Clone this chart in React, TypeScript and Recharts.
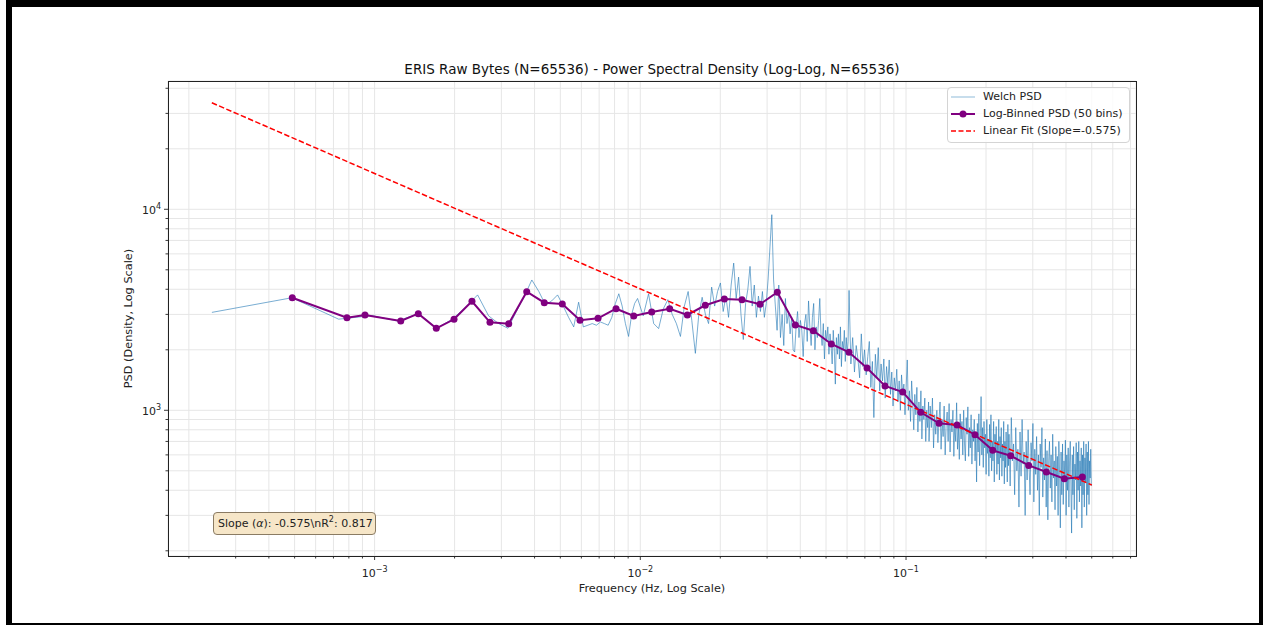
import { CartesianGrid, Label, Legend, Line, LineChart, XAxis, YAxis } from "recharts";

const FONT = "'DejaVu Sans', sans-serif";
const NPERSEG = 4096; // Welch segment length, fs = 1 -> bin k sits at k / 4096 Hz

// Welch PSD values, one block of frequency bins at a time
const welchPsdA = [ // bins 1..40
  3070, 3630, 2840, 2960, 2780, 3030, 2560, 2830, 3250, 3750,
  2950, 2700, 2560, 3100, 3700, 4450, 3900, 3350, 3500, 3750,
  3300, 2900, 2600, 3450, 2600, 2650, 2700, 2650, 2750, 2700,
  2650, 2900, 3400, 3800, 3300, 2700, 2330, 3000, 3400, 3600,
];
const welchPsdB = [ // bins 42..130, every 2nd
  2950, 3800, 2700, 2550, 3200, 3550, 3000, 2700, 2330, 3300,
  3900, 2800, 1920, 3000, 3650, 3000, 2700, 4100, 3300, 3900,
  4300, 3100, 3700, 2900, 4200, 5400, 3600, 4600, 3000, 2250,
  3400, 4000, 5200, 3300, 4200, 2900, 3700, 3100, 3900, 2900,
  3400, 4500, 6500, 9400, 4450,
];
const welchPsdC = [ // bins 132..250, every 2nd
  3300, 2500, 4200, 2300, 3000, 2100, 3600, 2700, 3100, 2400,
  2900, 2000, 1950, 2600, 3100, 2300, 2800, 2500, 1850, 2700,
  3000, 2200, 3500, 2600, 2100, 2900, 3400, 2000, 2600, 2300,
  2800, 3600, 2400, 2100, 2700, 1800, 2500, 2200, 2600, 1900,
  2400, 2100, 1700, 2500, 2000, 1350, 2300, 1900, 2400, 1800,
  2600, 1650, 2200, 2000, 2500, 1750, 2300, 1900, 2200, 3950,
];
const welchPsdD = [ // bins 254..498, every 4th
  1700, 2300, 1550, 2100, 1800, 1450, 2400, 1650, 2000, 1500,
  1850, 2200, 1300, 1750, 920, 1900, 1450, 2050, 1250, 1700,
  1400, 1800, 1150, 1650, 1350, 1780, 1200, 1550, 1050, 1450,
  1250, 1600, 1100, 1400, 1000, 1500, 1200, 1350, 950, 1300,
  1780, 1000, 1250, 880, 1400, 1100, 800, 1200, 950, 1300,
  780, 1100, 880, 1250, 720, 1050, 900, 1150, 700, 1000,
  820, 1100,
];
const welchPsdE = [ // bins 500..995, every 5th
  700, 1050, 820, 1150, 650, 950, 760, 1000, 690, 880,
  1100, 640, 900, 740, 1050, 600, 850, 980, 700, 1080,
  620, 900, 780, 1000, 590, 860, 700, 1090, 640, 820,
  570, 960, 720, 880, 600, 1000, 680, 560, 920, 760,
  1040, 590, 820, 650, 950, 540, 800, 700, 900, 560,
  780, 440, 860, 620, 960, 530, 740, 1170, 600, 820,
  520, 880, 650, 760, 480, 900, 610, 720, 470, 850,
  580, 950, 500, 700, 560, 880, 440, 760, 620, 830,
  480, 700, 540, 900, 450, 740, 580, 820, 470, 680,
  560, 880, 430, 700, 520, 780, 600, 440, 850, 530,
];
const welchPsdF = [ // bins 1000..2040, every 10th
  760, 420, 920, 560, 680, 380, 820, 500, 640, 330,
  780, 470, 900, 540, 620, 300, 700, 450, 800, 520,
  380, 690, 560, 860, 350, 640, 480, 740, 400, 600,
  300, 680, 520, 820, 370, 580, 450, 720, 330, 630,
  285, 560, 700, 410, 600, 350, 760, 460, 560, 320,
  660, 420, 590, 300, 700, 480, 260, 620, 380, 680,
  340, 560, 440, 710, 300, 600, 400, 650, 330, 560,
  700, 420, 245, 600, 380, 660, 320, 540, 450, 690,
  290, 620, 400, 700, 350, 560, 420, 650, 260, 600,
  380, 700, 330, 580, 440, 680, 300, 620, 380, 700,
  340, 560, 460, 640, 420,
];

const binnedFreq = [
  4.9e-4, 7.87e-4, 9.2e-4, 1.254e-3, 1.46e-3, 1.707e-3, 1.99e-3, 2.325e-3, 2.718e-3, 3.197e-3,
  3.737e-3, 4.351e-3, 5.086e-3, 5.93e-3, 6.931e-3, 8.103e-3, 9.445e-3, 1.104e-2, 1.29e-2, 1.503e-2,
  1.756e-2, 2.071e-2, 2.414e-2, 2.821e-2, 3.278e-2, 3.833e-2, 4.478e-2, 5.234e-2, 6.101e-2, 7.132e-2,
  8.337e-2, 9.718e-2, 0.1136, 0.1331, 0.1556, 0.1818, 0.212, 0.2477, 0.2895, 0.3374,
  0.3943, 0.4609,
];
const binnedPsd = [
  3631, 2888, 2980, 2782, 3024, 2559, 2836, 3486, 2740, 2697,
  3890, 3430, 3380, 2804, 2869, 3202, 2945, 3083, 3202, 2980,
  3330, 3581, 3550, 3369, 3864, 2657, 2489, 2137, 1944, 1623,
  1321, 1233, 977, 861, 845, 756, 632, 594, 532, 493,
  457, 466,
];

const fitFreq = [0.000244, 0.5];
const fitPsd = [33880, 425];

const xMajorTicks = [0.001, 0.01, 0.1];
const xMinorTicks = [
  0.0002, 0.0003, 0.0004, 0.0005, 0.0006, 0.0007, 0.0008, 0.0009,
  0.002, 0.003, 0.004, 0.005, 0.006, 0.007, 0.008, 0.009,
  0.02, 0.03, 0.04, 0.05, 0.06, 0.07, 0.08, 0.09,
  0.2, 0.3, 0.4, 0.5, 0.6, 0.7,
];
const yMajorTicks = [1000, 10000];
const yMinorTicks = [
  200, 300, 400, 500, 600, 700, 800, 900,
  2000, 3000, 4000, 5000, 6000, 7000, 8000, 9000,
  20000, 30000, 40000,
];

const legendOrder = ["Welch PSD", "Log-Binned PSD (50 bins)", "Linear Fit (Slope=-0.575)"];

const welchBlocks: [number, number, number[]][] = [
  [1, 1, welchPsdA],
  [42, 2, welchPsdB],
  [132, 2, welchPsdC],
  [254, 4, welchPsdD],
  [500, 5, welchPsdE],
  [1000, 10, welchPsdF],
];
const welchData = welchBlocks.flatMap(([start, step, vals]) =>
  vals.map((psd, i) => ({ f: (start + i * step) / NPERSEG, psd }))
);
const binnedData = binnedFreq.map((f, i) => ({ f, psd: binnedPsd[i] }));
const fitData = fitFreq.map((f, i) => ({ f, psd: fitPsd[i] }));

const W = 1263;
const H = 625;
const PLOT = { left: 168, top: 81, right: 1136, bottom: 556 };
const Y_AXIS_W = 60;
const X_AXIS_H = 30;

const exponent = (v: number) => {
  const e = Math.round(Math.log10(v));
  return e < 0 ? `\u2212${-e}` : `${e}`;
};

function XTick({ x, y, payload }: any) {
  const major = xMajorTicks.includes(payload.value);
  return (
    <g>
      <line x1={x} x2={x} y1={y} y2={y + (major ? 4 : 2.5)} stroke="#222" strokeWidth={0.9} />
      {major && (
        <text x={x} y={y + 21} textAnchor="middle" fontSize={11} fill="#222" fontFamily={FONT}>
          10<tspan dy={-5} fontSize={8}>{exponent(payload.value)}</tspan>
        </text>
      )}
    </g>
  );
}

function YTick({ x, y, payload }: any) {
  const major = yMajorTicks.includes(payload.value);
  return (
    <g>
      <line x1={x} x2={x - (major ? 4 : 2.5)} y1={y} y2={y} stroke="#222" strokeWidth={0.9} />
      {major && (
        <text x={x - 7} y={y + 4.5} textAnchor="end" fontSize={11} fill="#222" fontFamily={FONT}>
          10<tspan dy={-5} fontSize={8}>{exponent(payload.value)}</tspan>
        </text>
      )}
    </g>
  );
}

const legendSample: Record<string, { color: string; opacity: number; width: number; dash?: string; dot?: boolean }> = {
  "Welch PSD": { color: "#1f77b4", opacity: 0.5, width: 1 },
  "Log-Binned PSD (50 bins)": { color: "purple", opacity: 1, width: 2, dot: true },
  "Linear Fit (Slope=-0.575)": { color: "red", opacity: 1, width: 1.5, dash: "5 2.5" },
};

function LegendBox({ payload }: any) {
  const items = [...(payload || [])].sort(
    (a: any, b: any) => legendOrder.indexOf(a.value) - legendOrder.indexOf(b.value)
  );
  return (
    <div
      style={{
        background: "rgba(255,255,255,0.8)",
        border: "1px solid #d4d4d4",
        borderRadius: 4,
        padding: "0 6px 3px 3px",
        fontFamily: FONT,
        fontSize: 11,
        color: "#222",
      }}
    >
      {items.map((entry: any) => {
        const s = legendSample[entry.value];
        return (
          <div key={entry.value} style={{ display: "flex", alignItems: "center", height: 17 }}>
            <svg width={24} height={10} style={{ flex: "none" }}>
              <line x1={0} x2={24} y1={5} y2={5} stroke={s.color} strokeOpacity={s.opacity} strokeWidth={s.width} strokeDasharray={s.dash} />
              {s.dot && <circle cx={12} cy={5} r={3.5} fill={s.color} />}
            </svg>
            <span style={{ marginLeft: 8, whiteSpace: "nowrap" }}>{entry.value}</span>
          </div>
        );
      })}
    </div>
  );
}

export default function App() {
  return (
    <div style={{ position: "absolute", left: 0, top: 0, width: W, height: H, background: "#fff", overflow: "hidden" }}>
      <div
        style={{
          position: "absolute",
          left: 6,
          top: 0,
          width: W - 6,
          height: H,
          boxSizing: "border-box",
          borderTop: "7px solid #000",
          borderLeft: "6px solid #000",
          borderRight: "4px solid #000",
          borderBottom: "2px solid #000",
        }}
      />
      <div
        style={{
          position: "absolute",
          left: PLOT.left,
          width: PLOT.right - PLOT.left,
          top: 61,
          textAlign: "center",
          fontFamily: FONT,
          fontSize: 13.5,
          color: "#111",
          whiteSpace: "nowrap",
        }}
      >
        ERIS Raw Bytes (N=65536) - Power Spectral Density (Log-Log, N=65536)
      </div>
      <div style={{ position: "absolute", left: 0, top: 0 }}>
        <LineChart
          width={W}
          height={H}
          margin={{
            top: PLOT.top,
            right: W - PLOT.right,
            bottom: H - PLOT.bottom - X_AXIS_H,
            left: PLOT.left - Y_AXIS_W,
          }}
        >
          <CartesianGrid stroke="#e6e6e6" strokeWidth={1} />
          <XAxis
            dataKey="f"
            type="number"
            scale="log"
            domain={[1.669e-4, 0.7337]}
            allowDataOverflow
            ticks={[...xMinorTicks, ...xMajorTicks].sort((a, b) => a - b)}
            interval={0}
            tick={(p: any) => <XTick {...p} />}
            tickLine={false}
            tickSize={0}
            tickMargin={0}
            axisLine={false}
            height={X_AXIS_H}
          >
            <Label
              content={() => (
                <text x={(PLOT.left + PLOT.right) / 2} y={592} textAnchor="middle" fontSize={11.3} fill="#222" fontFamily={FONT}>
                  Frequency (Hz, Log Scale)
                </text>
              )}
            />
          </XAxis>
          <YAxis
            type="number"
            scale="log"
            domain={[188.4, 43480]}
            allowDataOverflow
            ticks={[...yMinorTicks, ...yMajorTicks].sort((a, b) => a - b)}
            interval={0}
            tick={(p: any) => <YTick {...p} />}
            tickLine={false}
            tickSize={0}
            tickMargin={0}
            axisLine={false}
            width={Y_AXIS_W}
          >
            <Label
              content={() => (
                <text
                  x={132}
                  y={(PLOT.top + PLOT.bottom) / 2}
                  transform={`rotate(-90 132 ${(PLOT.top + PLOT.bottom) / 2})`}
                  textAnchor="middle"
                  fontSize={11.3}
                  fill="#222"
                  fontFamily={FONT}
                >
                  PSD (Density, Log Scale)
                </text>
              )}
            />
          </YAxis>
          <Line
            data={welchData}
            dataKey="psd"
            name="Welch PSD"
            stroke="#1f77b4"
            strokeOpacity={0.6}
            strokeWidth={1}
            dot={false}
            activeDot={false}
            isAnimationActive={false}
          />
          <Line
            data={binnedData}
            dataKey="psd"
            name="Log-Binned PSD (50 bins)"
            stroke="purple"
            strokeWidth={2}
            dot={{ r: 3.5, fill: "purple", stroke: "purple", strokeWidth: 0 }}
            activeDot={false}
            isAnimationActive={false}
          />
          <Line
            data={fitData}
            dataKey="psd"
            name="Linear Fit (Slope=-0.575)"
            stroke="red"
            strokeWidth={1.5}
            strokeDasharray="5.5 2.4"
            dot={false}
            activeDot={false}
            isAnimationActive={false}
          />
          <Legend
            layout="vertical"
            align="center"
            verticalAlign="middle"
            content={(p: any) => <LegendBox {...p} />}
            wrapperStyle={{ top: 87, left: 947, width: 183 }}
          />
        </LineChart>
      </div>
      <div
        style={{
          position: "absolute",
          left: PLOT.left,
          top: PLOT.top,
          width: PLOT.right - PLOT.left + 1,
          height: PLOT.bottom - PLOT.top + 1,
          boxSizing: "border-box",
          border: "1px solid #222",
          pointerEvents: "none",
        }}
      />
      <div
        style={{
          position: "absolute",
          left: 213,
          top: 512,
          width: 163,
          height: 23,
          boxSizing: "border-box",
          background: "#f6e6c8",
          border: "1px solid #8a7b63",
          borderRadius: 4,
          fontFamily: FONT,
          fontSize: 11,
          lineHeight: "21px",
          paddingLeft: 4,
          color: "#222",
          whiteSpace: "nowrap",
        }}
      >
        Slope (<i>α</i>): -0.575\nR<sup style={{ fontSize: 8, lineHeight: 0 }}>2</sup>: 0.817
      </div>
    </div>
  );
}
